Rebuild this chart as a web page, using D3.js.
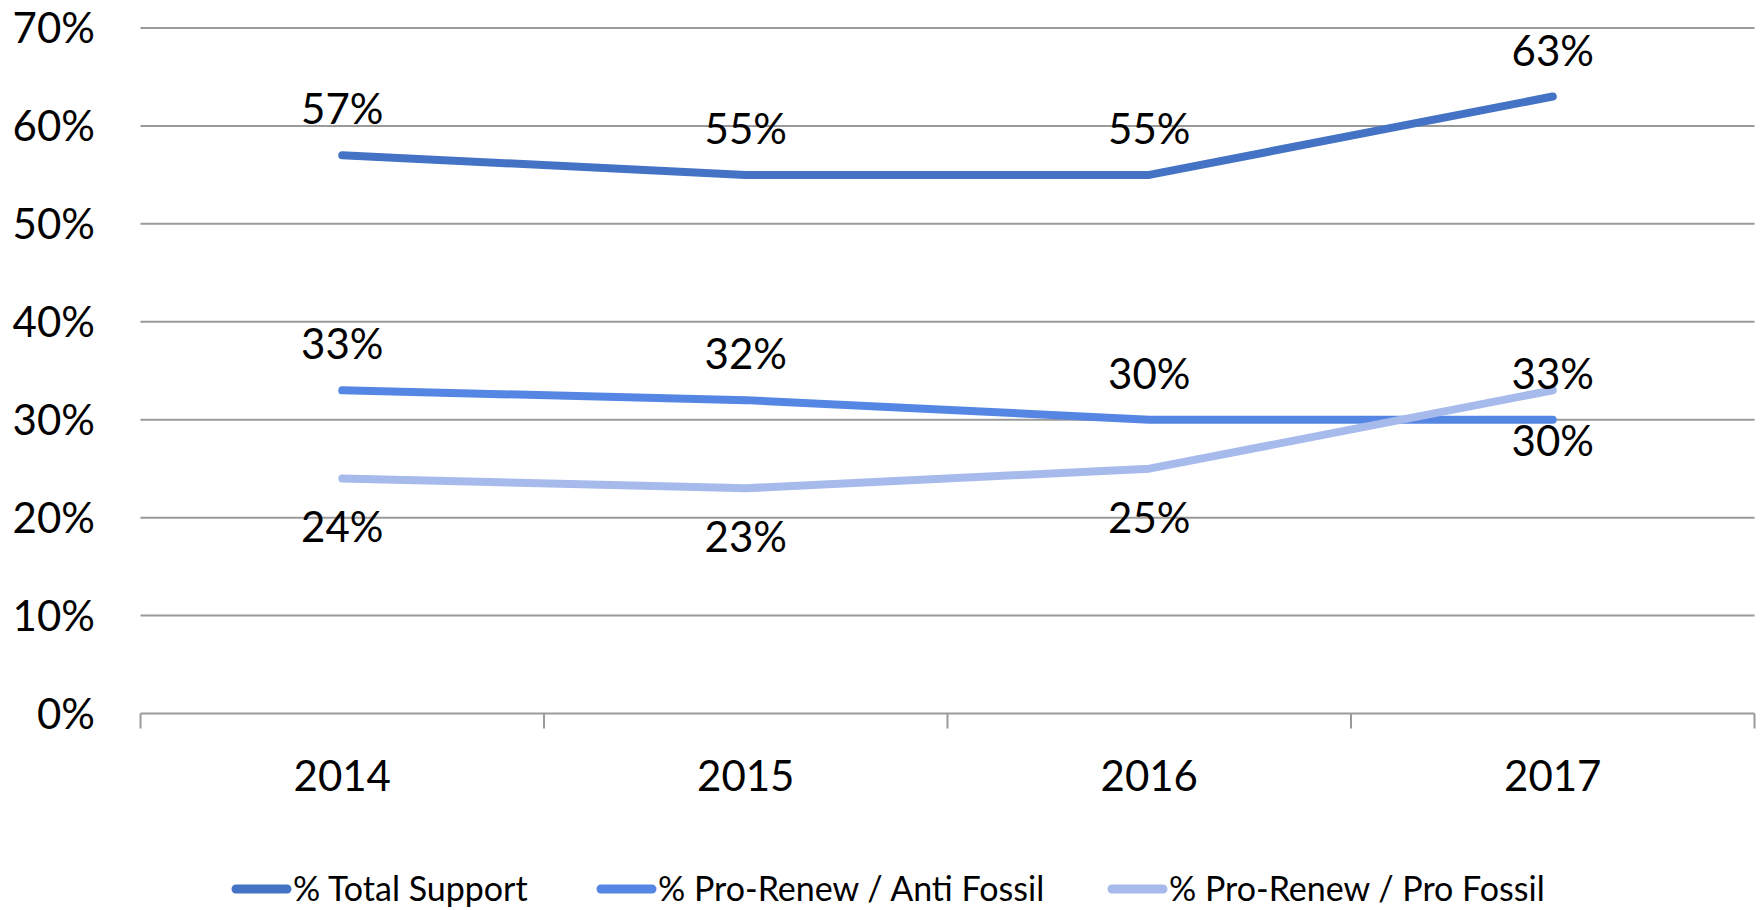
<!DOCTYPE html>
<html>
<head>
<meta charset="utf-8">
<script src="https://cdn.jsdelivr.net/npm/d3@7"></script>
<style>
  body { margin: 0; background: #fff; }
  text { font-family: Lato, "Open Sans", sans-serif; fill: #000; }
</style>
</head>
<body>
<div id="chart"></div>
<script>
// data
const years = ["2014", "2015", "2016", "2017"];
const totalSupport = [57, 55, 55, 63];
const antiFossil = [33, 32, 30, 30];
const proFossil = [24, 23, 25, 33];
const yTicks = [0, 10, 20, 30, 40, 50, 60, 70];

// baseline offset of each data label from its point (px)
const series = [
    { name: "% Total Support", values: totalSupport, color: "#4472C4", labelDy: [-31, -31, -31, -31] },
    { name: "% Pro-Renew / Anti Fossil", values: antiFossil, color: "#5586E3", labelDy: [-31, -31, -31, 36] },
    { name: "% Pro-Renew / Pro Fossil", values: proFossil, color: "#A7BAEC", labelDy: [64, 64, 64, -1] }
];

const width = 1762, height = 910;
const margin = { top: 28, right: 7.5, bottom: 196.5, left: 140.5 };

const svg = d3.select("#chart").append("svg")
    .attr("width", width)
    .attr("height", height);

const x = d3.scaleBand()
    .domain(years)
    .range([margin.left, width - margin.right]);

const y = d3.scaleLinear()
    .domain([0, 70])
    .range([height - margin.bottom, margin.top]);

// gridlines
svg.append("g")
    .selectAll("line")
    .data(yTicks.filter(d => d > 0))
    .enter().append("line")
    .attr("x1", margin.left)
    .attr("x2", width - margin.right)
    .attr("y1", d => y(d))
    .attr("y2", d => y(d))
    .style("stroke", "#9a9a9a")
    .style("stroke-width", 2);

// y labels
svg.append("g")
    .selectAll("text")
    .data(yTicks)
    .enter().append("text")
    .attr("x", 95)
    .attr("y", d => y(d))
    .attr("dy", "0.36em")
    .style("text-anchor", "end")
    .style("font-size", "42px")
    .text(d => d + "%");

// x axis with ticks between categories
const xAxis = svg.append("g");
xAxis.append("line")
    .attr("x1", margin.left)
    .attr("x2", width - margin.right)
    .attr("y1", y(0))
    .attr("y2", y(0))
    .style("stroke", "#9a9a9a")
    .style("stroke-width", 2);

const boundaries = years.map(d => x(d)).concat([x(years[years.length - 1]) + x.bandwidth()]);
xAxis.selectAll(".tick")
    .data(boundaries)
    .enter().append("line")
    .attr("x1", d => d)
    .attr("x2", d => d)
    .attr("y1", y(0))
    .attr("y2", y(0) + 15)
    .style("stroke", "#9a9a9a")
    .style("stroke-width", 2);

xAxis.selectAll("text")
    .data(years)
    .enter().append("text")
    .attr("x", d => x(d) + x.bandwidth() / 2)
    .attr("y", 791)
    .style("text-anchor", "middle")
    .style("font-size", "42px")
    .text(d => d);

// lines
const line = d3.line()
    .x((d, i) => x(years[i]) + x.bandwidth() / 2)
    .y(d => y(d));

series.forEach(s => {
    svg.append("path")
        .datum(s.values)
        .attr("d", line)
        .style("fill", "none")
        .style("stroke", s.color)
        .style("stroke-width", 8)
        .style("stroke-linecap", "round")
        .style("stroke-linejoin", "round");
});

// data labels
series.forEach(s => {
    svg.append("g")
        .selectAll("text")
        .data(s.values)
        .enter().append("text")
        .attr("x", (d, i) => x(years[i]) + x.bandwidth() / 2)
        .attr("y", (d, i) => y(d) + s.labelDy[i])
        .style("text-anchor", "middle")
        .style("font-size", "42px")
        .text(d => d + "%");
});

// legend
const legendX = [232, 597, 1108];
const legend = svg.append("g")
    .selectAll("g")
    .data(series)
    .enter().append("g")
    .attr("transform", (d, i) => `translate(${legendX[i]}, 889)`);

legend.append("line")
    .attr("x1", 4)
    .attr("x2", 55)
    .style("stroke", d => d.color)
    .style("stroke-width", 9)
    .style("stroke-linecap", "round");

legend.append("text")
    .attr("x", 61)
    .attr("dy", "0.36em")
    .style("font-size", "34px")
    .text(d => d.name);
</script>
</body>
</html>
